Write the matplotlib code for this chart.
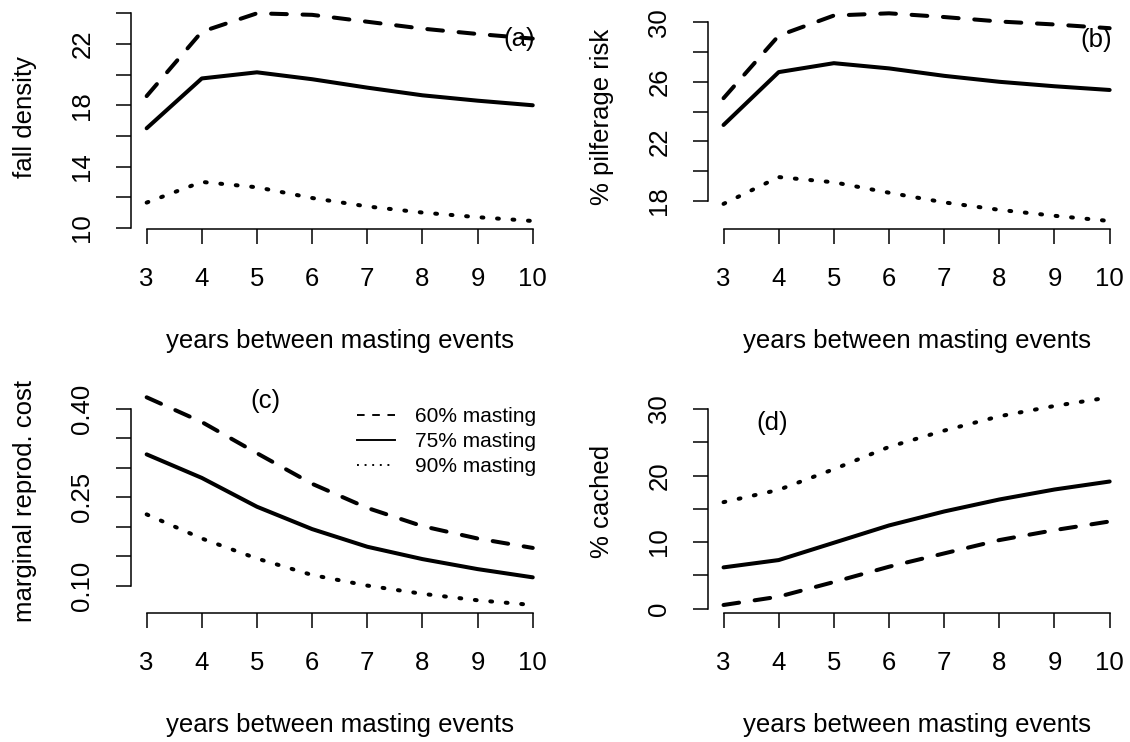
import matplotlib
matplotlib.use("Agg")
import matplotlib.pyplot as plt
from matplotlib.lines import Line2D
import numpy as np

plt.rcParams["font.family"] = ["Liberation Sans", "DejaVu Sans"]

# years between masting events
years = [3, 4, 5, 6, 7, 8, 9, 10]

# (a) fall density
density_60 = [18.6, 22.8, 24.0, 23.9, 23.45, 23.0, 22.65, 22.35]
density_75 = [16.5, 19.75, 20.15, 19.7, 19.15, 18.65, 18.3, 18.0]
density_90 = [11.65, 13.0, 12.65, 11.95, 11.4, 11.0, 10.7, 10.45]

# (b) % pilferage risk
pilferage_60 = [24.9, 29.1, 30.45, 30.6, 30.35, 30.05, 29.85, 29.6]
pilferage_75 = [23.1, 26.65, 27.25, 26.9, 26.4, 26.0, 25.7, 25.45]
pilferage_90 = [17.8, 19.6, 19.25, 18.55, 17.9, 17.4, 17.0, 16.65]

# (c) marginal reproductive cost
cost_60 = [0.420, 0.378, 0.325, 0.273, 0.232, 0.201, 0.180, 0.164]
cost_75 = [0.323, 0.283, 0.234, 0.196, 0.166, 0.145, 0.128, 0.114]
cost_90 = [0.221, 0.180, 0.146, 0.118, 0.100, 0.086, 0.075, 0.067]

# (d) % cached
cached_60 = [0.55, 1.8, 4.0, 6.3, 8.3, 10.3, 11.8, 13.1]
cached_75 = [6.2, 7.3, 9.9, 12.5, 14.6, 16.4, 17.9, 19.1]
cached_90 = [16.0, 17.85, 20.95, 24.3, 26.75, 28.9, 30.45, 31.75]

series_labels = ["60% masting", "75% masting", "90% masting"]

FS = 18.5
LW = 2.9
DASH = (0, (3.9, 3.9))
DOT = (0, (0.45, 3.4))
XLABEL = "years between masting events"


def panel(ax, s60, s75, s90, yticks, ylabels, ylabel, tag, tag_xy):
    kw = dict(color="black", lw=LW, dash_capstyle="round", solid_capstyle="round")
    ax.plot(years, s60, linestyle=DASH, **kw)
    ax.plot(years, s75, linestyle="-", **kw)
    ax.plot(years, s90, linestyle=DOT, **kw)
    ax.margins(x=0.04, y=0.04)

    for side in ("top", "right"):
        ax.spines[side].set_visible(False)
    for side in ("left", "bottom"):
        ax.spines[side].set_linewidth(1.1)
    ax.spines["bottom"].set_bounds(years[0], years[-1])
    ax.spines["left"].set_bounds(yticks[0], yticks[-1])

    ax.set_xticks(years, [str(v) for v in years])
    ax.set_yticks(yticks, ylabels, rotation=90, va="center")
    ax.tick_params(axis="both", length=10.5, width=1.1, labelsize=FS)
    ax.tick_params(axis="x", pad=17)
    ax.tick_params(axis="y", pad=16)
    ax.set_xlabel(XLABEL, fontsize=FS, labelpad=27)
    ax.set_ylabel(ylabel, fontsize=FS, labelpad=24)
    ax.text(tag_xy[0], tag_xy[1], tag, fontsize=FS, ha="center", va="center")


fig = plt.figure(figsize=(11.3, 7.42), dpi=100)
W, H = 1130, 742
left_col, right_col = 131.2 / W, 708.1 / W
pw, ph = 417.0 / W, 224.3 / H
top_row, bot_row = 1 - 229.3 / H, 1 - 613.3 / H

ax_a = fig.add_axes([left_col, top_row, pw, ph])
ax_b = fig.add_axes([right_col, top_row, pw, ph])
ax_c = fig.add_axes([left_col, bot_row, pw, ph])
ax_d = fig.add_axes([right_col, bot_row, pw, ph])

panel(ax_a, density_60, density_75, density_90,
      np.arange(10, 25, 2), ["10", "", "14", "", "18", "", "22", ""],
      "fall density", "(a)", (9.75, 22.3))
panel(ax_b, pilferage_60, pilferage_75, pilferage_90,
      np.arange(18, 31, 2), ["18", "", "22", "", "26", "", "30"],
      "% pilferage risk", "(b)", (9.75, 28.8))
panel(ax_c, cost_60, cost_75, cost_90,
      np.round(np.arange(0.10, 0.401, 0.05), 2),
      ["0.10", "", "", "0.25", "", "", "0.40"],
      "marginal reprod. cost", "(c)", (5.15, 0.414))
panel(ax_d, cached_60, cached_75, cached_90,
      np.arange(0, 31, 5), ["0", "", "10", "", "20", "", "30"],
      "% cached", "(d)", (3.88, 27.9))

handles = [
    Line2D([], [], color="black", lw=1.37, linestyle=(0, (4, 4))),
    Line2D([], [], color="black", lw=1.37, linestyle="-"),
    Line2D([], [], color="black", lw=1.37, linestyle=(0, (1, 3))),
]
ax_c.legend(handles, series_labels, loc="upper left",
            bbox_to_anchor=(357 / W, 1 - 407 / H), bbox_transform=fig.transFigure,
            frameon=False, fontsize=15, handlelength=1.83, handletextpad=0.96,
            labelspacing=0.3, borderpad=0, borderaxespad=0)

fig.savefig("out.png", dpi=100)
